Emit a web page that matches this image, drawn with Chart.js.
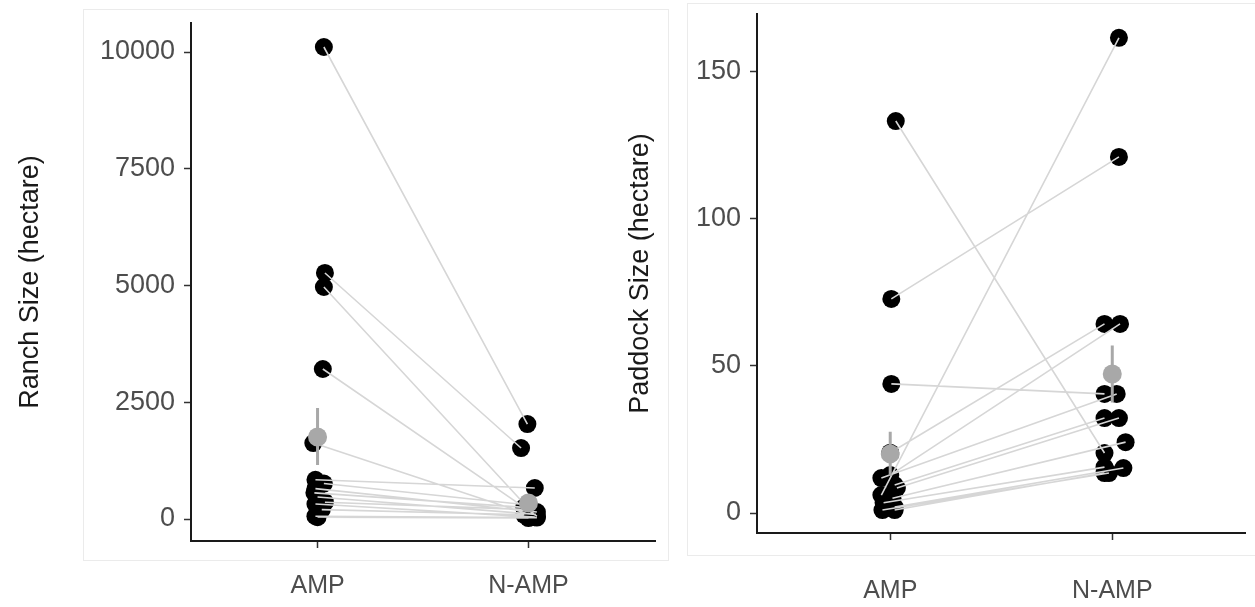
<!DOCTYPE html>
<html>
<head>
<meta charset="utf-8">
<script src="https://cdn.jsdelivr.net/npm/chart.js@4.4.0/dist/chart.umd.min.js"></script>
<style>
  body { margin: 0; background: #fff; width: 1255px; height: 607px; position: relative; overflow: hidden; }
  .box { position: absolute; border: 1px solid #ebebeb; }
  canvas { position: absolute; top: 0; }
</style>
</head>
<body>
<div class="box" style="left:83px;top:9px;width:584px;height:550px"></div>
<div class="box" style="left:687px;top:3px;width:580px;height:551px"></div>
<canvas id="ranchChart" width="668" height="607" style="left:0"></canvas>
<canvas id="paddockChart" width="655" height="607" style="left:600px"></canvas>
<script>
const groups = ['AMP', 'N-AMP'];

// ranch size (hectare), one entry per paired ranch
const ranchAmp  = [10107, 5268, 4968, 3212, 1627, 840, 760, 650, 560, 470, 360, 320, 200, 60, 40];
const ranchNamp = [2034, 1520, 80, 60, 120, 664, 300, 150, 250, 100, 200, 40, 90, 30, 20];
const ranchAmpJitter  = [0.03, 0.035, 0.03, 0.025, -0.02, -0.01, 0.03, -0.01, -0.015, 0.0, 0.035, -0.01, 0.02, -0.01, 0.0];
const ranchNampJitter = [-0.005, -0.035, 0.03, 0.04, -0.01, 0.03, 0.0, 0.04, -0.02, 0.035, 0.01, 0.03, -0.02, 0.04, 0.0];
const ranchMean = [1756, 343];
const ranchErrLow = [1156, 230];
const ranchErrHigh = [2377, 460];
const ranchTicks = [0, 2500, 5000, 7500, 10000];

// paddock size (hectare)
const paddockAmp  = [133.3, 72.8, 43.9, 20.5, 12.9, 11.9, 9.5, 8.5, 6.1, 5.0, 3.5, 2.0, 1.0, 1.0];
const paddockNamp = [20.4, 121.1, 40.5, 64.3, 64.3, 40.5, 32.3, 32.3, 161.6, 24.1, 15.6, 15.3, 13.6, 13.6];
const paddockAmpJitter  = [0.025, 0.005, 0.005, 0.0, 0.0, -0.04, 0.02, 0.03, -0.04, 0.01, -0.03, 0.02, -0.035, 0.02];
const paddockNampJitter = [-0.035, 0.03, -0.035, -0.035, 0.035, 0.02, -0.035, 0.03, 0.03, 0.06, -0.035, 0.05, -0.015, -0.035];
const paddockMean = [20.1, 47.3];
const paddockErrLow = [12.6, 37.6];
const paddockErrHigh = [27.6, 57.0];
const paddockTicks = [0, 50, 100, 150];

const FONT = '"Liberation Sans", Arial, sans-serif';

function buildDatasets(amp, namp, ampJit, nampJit, mean, lo, hi) {
  const points = [];
  const pairs = [];
  amp.forEach((v, i) => {
    points.push({ x: 1 + ampJit[i], y: v });
    points.push({ x: 2 + nampJit[i], y: namp[i] });
    pairs.push({ x: 1 + ampJit[i], y: v }, { x: 2 + nampJit[i], y: namp[i] }, { x: null, y: null });
  });
  const bars = [];
  mean.forEach((m, i) => {
    bars.push({ x: i + 1, y: lo[i] }, { x: i + 1, y: hi[i] }, { x: null, y: null });
  });
  return [
    { data: points, pointRadius: 9, pointBackgroundColor: '#000', pointBorderWidth: 0, showLine: false, order: 4 },
    { data: pairs, showLine: true, spanGaps: false, borderColor: '#d6d6d6', borderWidth: 1.6, pointRadius: 0, order: 3 },
    { data: bars, showLine: true, spanGaps: false, borderColor: '#a8a8a8', borderWidth: 3, pointRadius: 0, order: 2 },
    { data: mean.map((m, i) => ({ x: i + 1, y: m })), pointRadius: 9.5, pointBackgroundColor: '#a8a8a8', pointBorderWidth: 0, showLine: false, order: 1 }
  ];
}

function makeChart(id, cfg) {
  return new Chart(document.getElementById(id), {
    type: 'scatter',
    data: { datasets: buildDatasets(cfg.amp, cfg.namp, cfg.ampJit, cfg.nampJit, cfg.mean, cfg.lo, cfg.hi) },
    options: {
      responsive: false,
      animation: false,
      devicePixelRatio: 1,
      layout: { padding: cfg.padding },
      plugins: { legend: { display: false }, tooltip: { enabled: false } },
      scales: {
        x: {
          type: 'linear',
          min: 0.4,
          max: 2.6,
          afterBuildTicks: s => { s.ticks = [{ value: 1 }, { value: 2 }]; },
          afterFit: s => { s.height = cfg.xHeight; s.paddingLeft = 0; s.paddingRight = 0; },
          border: { display: true, color: '#1a1a1a', width: 2 },
          grid: { drawOnChartArea: false, drawTicks: true, tickLength: 7, tickColor: '#333', tickWidth: 1.5 },
          ticks: {
            callback: (v, i) => groups[i],
            color: '#4d4d4d',
            padding: cfg.xPad,
            font: { family: FONT, size: 25 }
          }
        },
        y: {
          min: cfg.yMin,
          max: cfg.yMax,
          afterBuildTicks: s => { s.ticks = cfg.ticks.map(v => ({ value: v })); },
          afterFit: s => { s.width = cfg.yWidth; s.paddingTop = 0; s.paddingBottom = 0; },
          border: { display: true, color: '#1a1a1a', width: 2 },
          grid: { drawOnChartArea: false, drawTicks: true, tickLength: 7, tickColor: '#333', tickWidth: 1.5 },
          ticks: {
            callback: v => String(v),
            color: '#4d4d4d',
            padding: 9,
            font: { family: FONT, size: 27 }
          },
          title: {
            display: true,
            text: cfg.title,
            color: '#1a1a1a',
            padding: { top: cfg.titlePad, bottom: 0 },
            font: { family: FONT, size: 27 }
          }
        }
      }
    }
  });
}

makeChart('ranchChart', {
  amp: ranchAmp, namp: ranchNamp, ampJit: ranchAmpJitter, nampJit: ranchNampJitter,
  mean: ranchMean, lo: ranchErrLow, hi: ranchErrHigh, ticks: ranchTicks,
  yMin: -471, yMax: 10621, title: 'Ranch Size (hectare)', titlePad: 14,
  padding: { top: 23, right: 13, left: 0, bottom: 0 }, yWidth: 191, xHeight: 66, xPad: 23
});

makeChart('paddockChart', {
  amp: paddockAmp, namp: paddockNamp, ampJit: paddockAmpJitter, nampJit: paddockNampJitter,
  mean: paddockMean, lo: paddockErrLow, hi: paddockErrHigh, ticks: paddockTicks,
  yMin: -6.8, yMax: 169.7, title: 'Paddock Size (hectare)', titlePad: 24,
  padding: { top: 14, right: 1, left: 0, bottom: 0 }, yWidth: 157, xHeight: 74, xPad: 36
});
</script>
</body>
</html>
